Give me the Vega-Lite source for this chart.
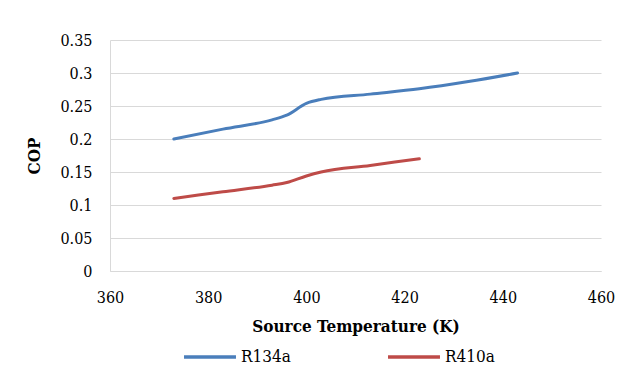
{
  "$schema": "https://vega.github.io/schema/vega-lite/v6.json",
  "width": 491,
  "height": 231,
  "autosize": {"type": "none"},
  "padding": {"left": 110, "top": 40, "right": 29, "bottom": 117},
  "background": "white",
  "config": {
    "view": {"stroke": null},
    "font": "DejaVu Serif Condensed",
    "axis": {"labelFont": "DejaVu Serif Condensed", "titleFont": "DejaVu Serif Condensed", "labelFontSize": 16, "titleFontSize": 17, "labelColor": "#000", "titleColor": "#000", "gridColor": "#d9d9d9", "domainColor": "#d9d9d9", "ticks": false}
  },
  "data": {"values": [
    {"T": 373, "COP": 0.2, "s": "R134a"},
    {"T": 383, "COP": 0.215, "s": "R134a"},
    {"T": 393, "COP": 0.229, "s": "R134a"},
    {"T": 396, "COP": 0.236, "s": "R134a"},
    {"T": 400, "COP": 0.254, "s": "R134a"},
    {"T": 403, "COP": 0.26, "s": "R134a"},
    {"T": 413, "COP": 0.268, "s": "R134a"},
    {"T": 423, "COP": 0.276, "s": "R134a"},
    {"T": 433, "COP": 0.287, "s": "R134a"},
    {"T": 443, "COP": 0.3, "s": "R134a"},
    {"T": 373, "COP": 0.11, "s": "R410a"},
    {"T": 383, "COP": 0.12, "s": "R410a"},
    {"T": 393, "COP": 0.13, "s": "R410a"},
    {"T": 396, "COP": 0.134, "s": "R410a"},
    {"T": 400, "COP": 0.144, "s": "R410a"},
    {"T": 403, "COP": 0.15, "s": "R410a"},
    {"T": 413, "COP": 0.16, "s": "R410a"},
    {"T": 423, "COP": 0.17, "s": "R410a"}
  ]},
  "mark": {"type": "line", "interpolate": "monotone", "strokeWidth": 3, "strokeCap": "round"},
  "encoding": {
    "x": {"field": "T", "type": "quantitative", "scale": {"domain": [360, 460], "nice": false},
      "axis": {"values": [360, 380, 400, 420, 440, 460], "grid": false, "labelFlush": false, "title": "Source Temperature (K)", "titleFontWeight": "bold", "labelPadding": 18, "titlePadding": 13}},
    "y": {"field": "COP", "type": "quantitative", "scale": {"domain": [0, 0.35], "nice": false},
      "axis": {"values": [0, 0.05, 0.1, 0.15, 0.2, 0.25, 0.3, 0.35], "labelExpr": "datum.value == 0 ? '0' : format(datum.value, '.2~f')", "title": "COP", "titleFontWeight": "bold", "labelPadding": 18, "titlePadding": 16}},
    "color": {"field": "s", "type": "nominal", "scale": {"domain": ["R134a", "R410a"], "range": ["#4a7ebb", "#be4b48"]},
      "legend": {"title": null, "orient": "none", "legendX": 72, "legendY": 289, "direction": "horizontal", "columns": 2, "symbolType": "stroke", "symbolSize": 2700, "symbolStrokeWidth": 3.5, "labelFont": "DejaVu Serif Condensed", "labelFontSize": 17, "labelColor": "#000", "columnPadding": 90, "labelOffset": 3}}
  }
}
